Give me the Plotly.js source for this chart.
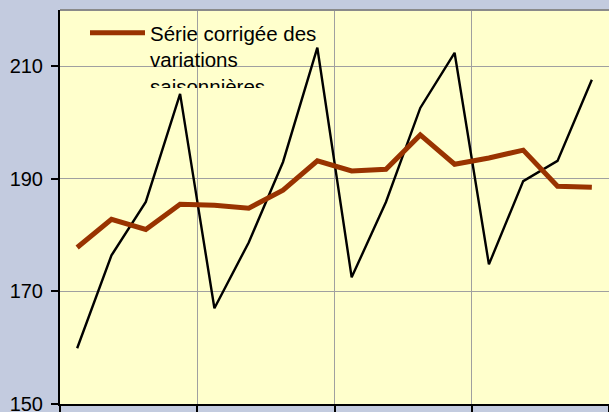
<!DOCTYPE html>
<html><head><meta charset="utf-8">
<script src="https://cdn.plot.ly/plotly-3.0.1.min.js"></script>
<style>html,body{margin:0;padding:0;background:#c3cbdf;} #chart{width:609px;height:412px;}</style>
</head><body><div id="chart"></div>
<script>
const quarters = ['A1 T1','A1 T2','A1 T3','A1 T4','A2 T1','A2 T2','A2 T3','A2 T4',
                  'A3 T1','A3 T2','A3 T3','A3 T4','A4 T1','A4 T2','A4 T3','A4 T4'];
const serieBrute = [159.9,176.4,185.9,205.1,167.0,178.7,193.0,213.3,
                    172.5,185.9,202.6,212.4,174.8,189.6,193.2,207.6];
const serieCVS = [177.8,182.8,181.0,185.5,185.3,184.8,188.0,193.2,
                  191.4,191.7,197.8,192.6,193.7,195.1,188.7,188.5];
const legendLabel = 'Série corrigée des<br>variations<br>saisonnières';
const yTicks = [150,170,190,210];

const font = 'Liberation Sans, Arial, sans-serif';
const traces = [
  {x: quarters, y: serieBrute, type:'scatter', mode:'lines', name:'Série brute',
   showlegend:false, line:{color:'#000000', width:2.4}},
  {x: quarters, y: serieCVS, type:'scatter', mode:'lines', name: legendLabel,
   line:{color:'#993300', width:5}}
];
const layout = {
  width:609, height:412,
  margin:{l:60, r:0, t:10, b:8, pad:0},
  paper_bgcolor:'#c3cbdf', plot_bgcolor:'#ffffcc',
  font:{family:font, size:20, color:'#000'},
  xaxis:{type:'category', range:[-0.5,15.5], tickson:'boundaries', dtick:4, tick0:0,
    showticklabels:false, ticks:'outside', ticklen:8, tickwidth:2, tickcolor:'#000',
    showline:true, linecolor:'#000', linewidth:2, showgrid:true, gridcolor:'#a0a0a0', gridwidth:1},
  yaxis:{range:[150,220], tickvals:yTicks, ticks:'outside', ticklen:7, tickwidth:2, tickcolor:'#000',
    showline:true, linecolor:'#000', linewidth:2, showgrid:true, gridcolor:'#a0a0a0', gridwidth:1,
    zeroline:false, ticklabeloverflow:'allow', ticklabelstandoff:4,
    tickfont:{family:font, size:20, color:'#000'}},
  shapes:[
    {type:'line', xref:'paper', yref:'paper', x0:0, x1:1, y0:1, y1:1,
     line:{color:'#8a8a8a', width:2}},
    {type:'rect', xref:'paper', yref:'paper', x0:3/549, x1:286/549, y0:(404-80)/394, y1:(404-13)/394,
     fillcolor:'#ffffcc', line:{width:0}, layer:'between'}
  ],
  legend:{xref:'paper', yref:'paper', x:25/549, y:(404-13)/394, xanchor:'left', yanchor:'top',
    bgcolor:'rgba(0,0,0,0)', borderwidth:0, itemwidth:55, valign:'top', maxheight:75,
    font:{family:font, size:20.5, color:'#000'}},
  showlegend:true
};
Plotly.newPlot('chart', traces, layout, {displayModeBar:false, staticPlot:true}).then(gd => {
  gd.querySelectorAll('.scrollbar').forEach(e => e.style.display = 'none');
});
</script></body></html>
